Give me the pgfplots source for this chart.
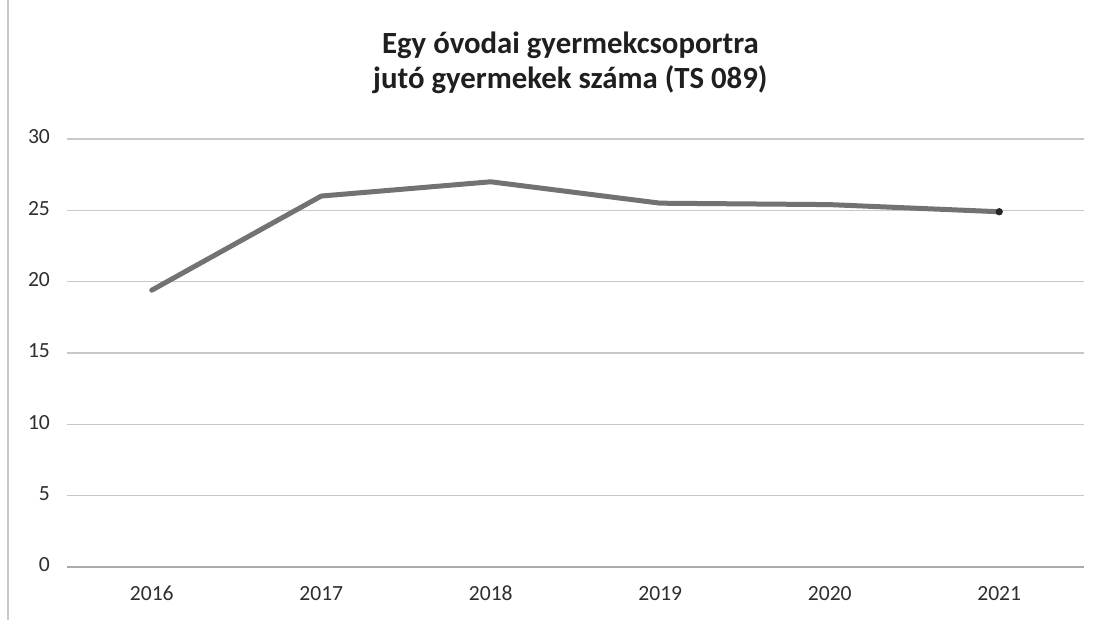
\documentclass[border=0pt]{standalone}
\usepackage{fontspec}
\setmainfont{Carlito}
\usepackage{pgfplots}
\pgfplotsset{compat=1.18}
\definecolor{linegray}{HTML}{727272}
\definecolor{gridgray}{HTML}{C8C8C8}
\definecolor{labelgray}{HTML}{2E2E2E}

\begin{document}
\begin{tikzpicture}
\begin{axis}[
    scale only axis,
    width=508.5pt,
    height=214pt,
    xmin=-0.5, xmax=5.5,
    ymin=0, ymax=30,
    xtick={0,1,2,3,4,5},
    xticklabels={2016,2017,2018,2019,2020,2021},
    ytick={0,5,10,15,20,25,30},
    major tick length=0pt,
    ymajorgrids=true,
    grid style={gridgray,line width=0.75pt},
    axis x line*=bottom,
    axis y line*=left,
    x axis line style={gridgray!85!black,line width=0.75pt,-},
    y axis line style={draw=none},
    /pgf/number format/assume math mode=true,
    typeset ticklabels with strut,
    tick label style={font=\fontsize{10.8}{12}\selectfont,text=labelgray},
    xticklabel style={yshift=-5pt},
    yticklabel style={xshift=-5pt},
    title={Egy óvodai gyermekcsoportra\\jutó gyermekek száma (TS 089)},
    title style={at={(0.495,1.15)},anchor=center,align=center,
        font=\bfseries\fontsize{15.4}{17.5}\selectfont,text=black!88},
]
\addplot[linegray,line width=2.5pt,line join=round,line cap=round] coordinates {
    (0,19.4) (1,26.0) (2,27.0) (3,25.5) (4,25.4) (5,24.9)
};
\addplot[only marks,mark=*,mark size=1.6pt,black!85] coordinates {(5,24.9)};
\end{axis}
\draw[gridgray,line width=0.8pt] (-29.5pt,-26.5pt) -- (-29.5pt,283.5pt);
\pgfresetboundingbox
\useasboundingbox (-33.5pt,-26.5pt) rectangle (516pt,283.5pt);
\end{tikzpicture}
\end{document}
